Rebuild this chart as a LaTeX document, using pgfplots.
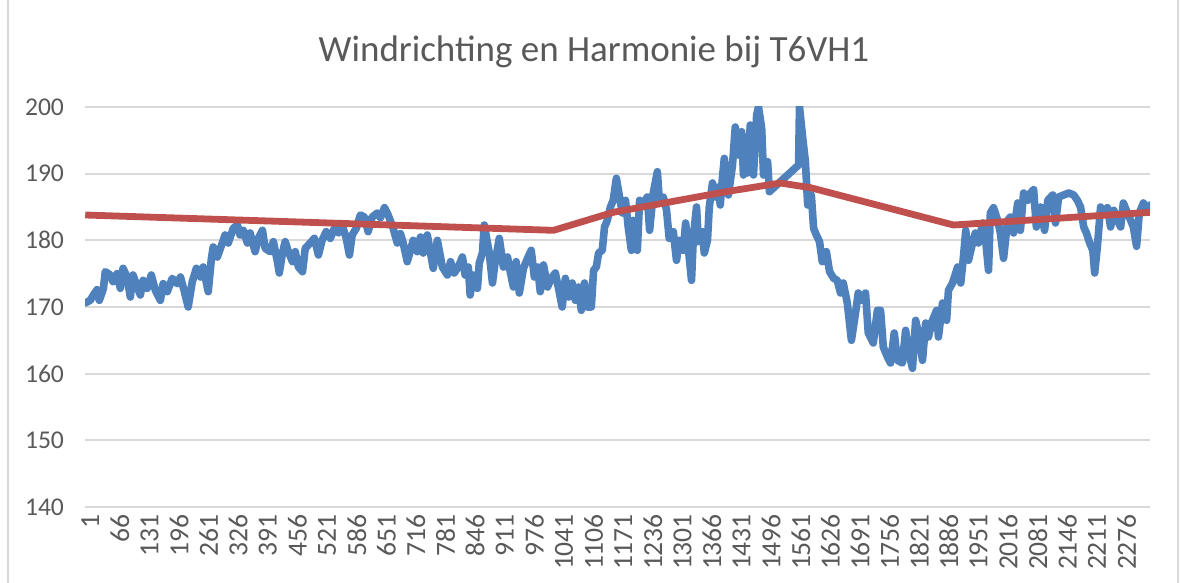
\documentclass[border=0pt]{standalone}
\usepackage{pgfplots}
\pgfplotsset{compat=1.18}
\usepackage{fontspec}
\setmainfont{Carlito}
\definecolor{serblue}{HTML}{4F81BD}
\definecolor{serred}{HTML}{C0504D}
\definecolor{gridgray}{HTML}{D9D9D9}
\definecolor{txtgray}{HTML}{595959}
\begin{document}
\begin{tikzpicture}
\useasboundingbox (0,0) rectangle (590.5bp,291.5bp);
\draw[gridgray, line width=0.8bp] (4bp,0) -- (4bp,291.5bp);
\draw[gridgray, line width=0.8bp] (589bp,0) -- (589bp,291.5bp);
\node[text=txtgray, font=\fontsize{18.5bp}{22bp}\selectfont] at (297bp,265.5bp) {Windrichting en Harmonie bij T6VH1};
\begin{axis}[
  at={(42.5bp,38bp)}, anchor=south west,
  scale only axis, width=532.5bp, height=200bp,
  xmin=0.5, xmax=2338.5, ymin=140, ymax=200,
  ytick={140,150,...,200},
  xtick={1,66,...,2276},
  scaled ticks=false,
  /pgf/number format/1000 sep={},
  /pgf/number format/assume math mode=true,
  major tick length=0pt,
  axis line style={draw=none},
  ymajorgrids, grid style={draw=gridgray, line width=0.9bp},
  yticklabel style={text=txtgray, font=\fontsize{12.8bp}{15bp}\selectfont, xshift=-7bp},
  xticklabel style={text=txtgray, font=\fontsize{13.8bp}{16bp}\selectfont, rotate=90, anchor=east, yshift=-2.5bp},
  clip=true,
]
\addplot[serblue, line width=3.8bp, line join=round, line cap=round] coordinates {
(1,170.6)(12,171.0)(19,171.8)(27,172.6)(32,171.0)(41,172.8)(45,175.3)(56,174.8)(62,173.8)(71,175.0)
(78,172.8)(84,175.8)(93,174.5)(100,171.5)(106,174.8)(115,173.0)(122,171.8)(128,174.0)(137,172.8)(146,174.8)
(155,172.5)(166,171.0)(172,173.5)(181,172.3)(192,174.3)(203,173.5)(210,174.5)(218,172.5)(227,170.0)(236,173.8)
(245,175.8)(254,174.5)(260,176.0)(271,172.3)(278,177.3)(282,179.0)(291,177.5)(302,179.6)(308,180.8)(315,179.6)
(326,181.8)(335,182.3)(341,180.8)(348,181.5)(357,179.6)(363,181.1)(374,178.3)(381,180.3)(390,181.5)(396,178.8)
(407,178.3)(414,179.8)(423,176.8)(427,175.1)(434,178.1)(440,179.8)(447,178.3)(456,176.8)(462,178.3)(469,176.0)
(478,175.3)(484,178.8)(495,179.6)(504,180.3)(513,177.8)(521,180.0)(530,181.3)(539,180.3)(548,181.8)(557,181.1)
(565,182.3)(574,180.3)(581,177.8)(587,180.8)(596,181.8)(605,183.8)(614,183.5)(622,181.3)(631,183.5)(642,184.1)
(649,183.4)(658,184.9)(666,183.8)(677,181.8)(686,179.6)(693,181.0)(699,179.6)(708,176.8)(715,178.5)(721,180.0)
(730,178.3)(737,180.5)(743,178.1)(752,180.8)(759,178.1)(765,175.8)(774,180.0)(785,176.0)(796,174.8)(803,176.8)
(811,175.1)(820,176.0)(829,177.5)(835,174.8)(842,176.0)(846,171.8)(853,174.8)(862,172.8)(866,176.6)(873,178.1)
(877,182.3)(884,179.6)(888,178.1)(895,173.6)(901,176.8)(910,180.3)(919,176.0)(928,177.5)(934,175.3)(941,173.0)
(947,176.8)(954,172.1)(963,175.8)(972,177.3)(980,178.5)(987,174.5)(994,176.0)(1000,172.3)(1007,176.3)(1016,173.0)
(1024,174.3)(1033,175.1)(1040,172.8)(1048,170.0)(1055,174.3)(1062,171.5)(1070,173.6)(1077,171.0)(1084,173.0)(1090,169.5)
(1097,173.6)(1103,170.0)(1112,170.0)(1117,175.5)(1123,176.0)(1128,178.1)(1136,178.5)(1141,182.0)(1147,183.0)(1154,185.0)
(1160,186.0)(1167,189.3)(1174,186.5)(1180,184.1)(1187,186.0)(1193,182.0)(1200,178.5)(1204,183.0)(1213,178.5)(1218,186.0)
(1226,185.5)(1235,186.5)(1240,181.5)(1248,187.1)(1257,190.3)(1261,186.3)(1270,186.5)(1277,184.6)(1283,180.3)(1292,181.3)
(1299,177.0)(1305,180.0)(1314,178.5)(1319,182.6)(1325,178.8)(1332,174.0)(1336,180.5)(1343,185.0)(1347,179.8)(1356,181.3)
(1360,178.1)(1367,180.0)(1371,185.0)(1378,188.6)(1384,186.5)(1391,188.0)(1395,185.3)(1400,189.5)(1404,192.3)(1409,188.8)
(1413,186.8)(1422,191.3)(1428,197.0)(1435,192.8)(1442,196.3)(1446,189.8)(1450,195.4)(1455,190.1)(1461,197.3)(1468,189.8)
(1475,198.8)(1479,200.0)(1486,196.8)(1490,189.8)(1499,191.8)(1503,187.3)(1567,191.3)(1569,200.0)(1576,195.4)(1582,191.8)
(1587,185.3)(1595,186.8)(1600,181.8)(1606,180.8)(1613,179.8)(1619,176.8)(1628,178.3)(1635,175.3)(1644,174.3)(1652,174.0)
(1659,172.1)(1665,173.6)(1674,170.6)(1683,165.0)(1692,169.1)(1698,172.1)(1707,171.0)(1714,172.1)(1720,166.1)(1731,164.6)
(1740,169.5)(1747,169.5)(1753,164.0)(1762,162.5)(1769,161.6)(1777,166.1)(1784,162.0)(1795,161.6)(1802,166.5)(1808,163.5)
(1817,160.8)(1824,168.0)(1830,166.1)(1839,162.0)(1846,167.6)(1852,165.5)(1861,168.0)(1870,169.5)(1874,165.5)(1883,170.6)
(1892,168.0)(1896,172.5)(1905,173.6)(1912,175.1)(1916,176.0)(1923,173.6)(1929,177.5)(1934,181.5)(1940,177.0)(1949,179.6)
(1955,181.1)(1962,179.6)(1971,182.6)(1977,180.5)(1984,175.5)(1988,184.1)(1995,184.9)(2004,183.0)(2010,181.1)(2017,177.3)
(2026,183.0)(2032,183.5)(2039,181.1)(2048,185.6)(2054,181.5)(2061,187.1)(2070,186.0)(2076,187.1)(2083,187.6)(2089,182.0)
(2098,185.0)(2107,181.5)(2114,186.0)(2125,186.8)(2131,182.6)(2138,186.5)(2149,186.8)(2160,187.1)(2171,186.8)(2179,186.0)
(2186,185.0)(2193,182.0)(2199,181.1)(2206,179.6)(2213,178.5)(2217,175.1)(2223,179.1)(2230,185.0)(2236,184.1)(2245,184.9)
(2252,182.0)(2259,184.5)(2267,183.0)(2274,182.0)(2280,185.6)(2289,184.1)(2296,183.0)(2302,182.0)(2309,179.1)(2315,184.1)
(2324,185.6)(2331,184.5)(2338,185.3)
};
\addplot[serred, line width=3.4bp, line join=round] coordinates {
(1,183.8)(1029,181.5)(1160,184.2)(1408,187.3)(1527,188.6)(1593,187.9)(1907,182.3)(2338,184.2)
};
\end{axis}
\end{tikzpicture}
\end{document}
